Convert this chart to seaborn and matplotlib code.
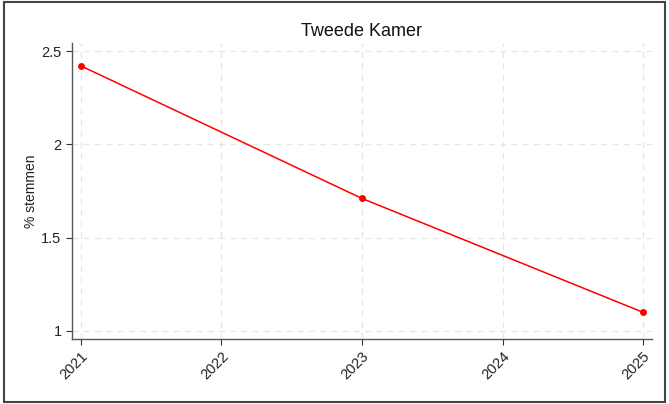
import matplotlib
matplotlib.use("Agg")
import matplotlib.pyplot as plt
import seaborn as sns
import pandas as pd
from matplotlib.patches import Rectangle

# data
years = [2021, 2023, 2025]
stemmen = [2.42, 1.71, 1.10]
xticks = [2021, 2022, 2023, 2024, 2025]
yticks = [1, 1.5, 2, 2.5]

df = pd.DataFrame({"jaar": years, "pct": stemmen})

sns.set_style("white")
plt.rcParams['font.family'] = ['Liberation Sans', 'DejaVu Sans']

fig = plt.figure(figsize=(6.69, 4.04), dpi=100)
ax = fig.add_axes([0.1076, 0.1609, 0.867, 0.7327])

sns.lineplot(data=df, x="jaar", y="pct", color="red", marker="o",
             markersize=5, markeredgewidth=0, linewidth=1.1, ax=ax)

ax.set_xlim(2020.936, 2025.064)
ax.set_ylim(0.957, 2.543)
ax.set_xticks(xticks)
ax.set_xticklabels([str(t) for t in xticks], rotation=45, ha="right",
                   rotation_mode="anchor")
ax.set_yticks(yticks)
ax.set_yticklabels(["1", "1.5", "2", "2.5"])
ax.tick_params(axis="both", labelsize=10.5, length=4, width=0.8,
               color="#333333", labelcolor="#222222", direction="out",
               bottom=True, left=True)
ax.grid(True, linestyle=(0, (5, 4)), color="#e6e6e6", linewidth=0.9)
for s in ["top", "right"]:
    ax.spines[s].set_visible(False)
for s in ["left", "bottom"]:
    ax.spines[s].set_color("#555555")
    ax.spines[s].set_linewidth(1.0)

ax.set_xlabel("")
ax.set_ylabel("% stemmen", fontsize=10, color="#222222")
ax.yaxis.set_label_coords(-0.058, 0.5)
ax.set_title("Tweede Kamer", fontsize=13, color="#111111", pad=5)

fig.patches.append(Rectangle((0.006, 0.006), 0.988, 0.988, transform=fig.transFigure,
                             fill=False, edgecolor="#444444", linewidth=1.5))

plt.savefig("out.png", dpi=100)
